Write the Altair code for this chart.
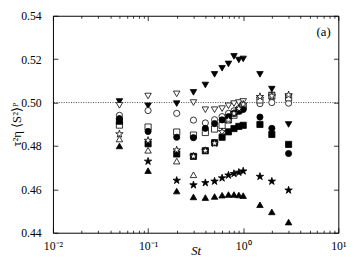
import altair as alt
import pandas as pd

# ---- data ----
st = [0.05, 0.1, 0.2, 0.3, 0.4, 0.5, 0.6, 0.7, 0.8, 0.9, 1.0, 1.5, 2.0, 3.0]

tri_down_filled = [0.5005, 0.4985, 0.4995, 0.5047, 0.5081, 0.5130, 0.5158, 0.5178, 0.5213, 0.5196, 0.5201, 0.5130, 0.5062, 0.4899]
tri_down_open   = [0.4987, 0.5030, 0.5040, 0.5000, 0.4967, 0.4967, 0.4972, 0.4985, 0.4995, 0.5000, 0.5005, 0.5012, 0.5035, 0.5025]
circle_open     = [0.4941, 0.4963, 0.4950, 0.4919, 0.4906, 0.4921, 0.4935, 0.4950, 0.4962, 0.4972, 0.4980, 0.4995, 0.5000, 0.4997]
square_open     = [0.4896, 0.4887, 0.4864, 0.4850, 0.4862, 0.4878, 0.4895, 0.4920, 0.4942, 0.4962, 0.4980, 0.5012, 0.5030, 0.5022]
circle_filled   = [0.4926, 0.4867, 0.4840, 0.4838, 0.4881, 0.4903, 0.4920, 0.4935, 0.4950, 0.4960, 0.4968, 0.4933, 0.4881, 0.4765]
square_filled   = [0.4914, 0.4810, 0.4763, 0.4752, 0.4778, 0.4815, 0.4840, 0.4865, 0.4880, 0.4890, 0.4895, 0.4899, 0.4853, 0.4807]
star_open       = [0.4855, 0.4825, 0.4781, 0.4752, 0.4778, 0.4812, 0.4865, 0.4920, 0.4950, 0.4972, 0.4992, 0.5027, 0.5030, 0.5035]
star_filled     = [None, 0.4729, 0.4641, 0.4620, 0.4630, 0.4637, 0.4652, 0.4665, 0.4672, 0.4678, 0.4684, 0.4659, 0.4637, 0.4596]
tri_up_open     = [0.4832, 0.4780, 0.4730, 0.4667, None, None, None, None, None, None, None, None, None, None]
tri_up_filled   = [0.4800, 0.4686, 0.4592, 0.4565, 0.4562, 0.4567, 0.4573, 0.4576, 0.4576, 0.4574, 0.4571, 0.4529, 0.4496, 0.4449]

x_ticks = [0.01, 0.02, 0.03, 0.04, 0.05, 0.06, 0.07, 0.08, 0.09,
           0.1, 0.2, 0.3, 0.4, 0.5, 0.6, 0.7, 0.8, 0.9,
           1, 2, 3, 4, 5, 6, 7, 8, 9, 10]
y_ticks = [0.44, 0.46, 0.48, 0.50, 0.52, 0.54]
ref_level = 0.50
panel_label = "(a)"

# ---- styles ----
STAR = ("M0,-1L0.225,-0.309L0.951,-0.309L0.363,0.118L0.588,0.809L0,0.382"
        "L-0.588,0.809L-0.363,0.118L-0.951,-0.309L-0.225,-0.309Z")
series = [
    (tri_down_filled, "triangle-down", "black", 44),
    (tri_down_open,   "triangle-down", "white", 44),
    (circle_open,     "circle",        "white", 40),
    (square_open,     "square",        "white", 40),
    (circle_filled,   "circle",        "black", 40),
    (square_filled,   "square",        "black", 40),
    (star_open,       STAR,            "white", 64),
    (star_filled,     STAR,            "black", 64),
    (tri_up_open,     "triangle-up",   "white", 44),
    (tri_up_filled,   "triangle-up",   "black", 44),
]

rows = []
k = 0
for vals, shp, fc, sz in series:
    for s, v in zip(st, vals):
        if v is None:
            continue
        rows.append({"St": s, "val": v, "shp": shp, "fc": fc, "sz": sz, "idx": k})
        k += 1
df = pd.DataFrame(rows)

FONT = "Liberation Serif"
xscale = alt.Scale(type="log", domain=[0.01, 10], nice=False)
yscale = alt.Scale(domain=[0.44, 0.54], nice=False, zero=False)
tick_expr = alt.ExprRef(expr="indexof([0.01,0.1,1,10], datum.value) >= 0 ? -5 : -2.5")
lab_expr = ("datum.value == 0.01 ? '10⁻²' : datum.value == 0.1 ? '10⁻¹' : "
            "datum.value == 1 ? '10⁰' : datum.value == 10 ? '10¹' : ''")

common = dict(domainColor="black", tickColor="black", labelColor="black",
              titleColor="black", grid=False, labelFont=FONT, titleFont=FONT,
              labelFontSize=12, titleFontSize=13, titleFontWeight="normal",
              domainWidth=1, tickWidth=0.8, labelFlush=False)

ax_bottom = alt.Axis(orient="bottom", values=x_ticks, tickSize=tick_expr,
                     labelExpr=lab_expr, labelPadding=13, labelOverlap=False,
                     titleFontStyle="italic", titleY=22, titleBaseline="alphabetic",
                     titleAnchor="middle", **common)
ax_top = alt.Axis(orient="top", values=x_ticks, tickSize=tick_expr,
                  labels=False, title=None, **common)
ax_left = alt.Axis(orient="left", values=y_ticks, tickSize=alt.ExprRef(expr="-5"),
                   format=".2f", labelPadding=17, titleX=-30, titleBaseline="bottom",
                   titleAnchor="middle", **common)
ax_right = alt.Axis(orient="right", values=y_ticks, tickSize=alt.ExprRef(expr="-5"),
                    labels=False, title=None, **common)

points = alt.Chart(df).mark_point(filled=True, stroke="black", strokeWidth=0.8, opacity=1).encode(
    x=alt.X("St:Q", scale=xscale, axis=ax_bottom, title="St"),
    y=alt.Y("val:Q", scale=yscale, axis=ax_left, title="τ²η ⟨S²⟩ᴾ"),
    shape=alt.Shape("shp:N", scale=None),
    fill=alt.Fill("fc:N", scale=None),
    size=alt.Size("sz:Q", scale=None),
    order=alt.Order("idx:Q"),
)

frame = alt.Chart(df).mark_point(opacity=0).encode(
    x=alt.X("St:Q", scale=xscale, axis=ax_top),
    y=alt.Y("val:Q", scale=yscale, axis=ax_right),
)

ref = alt.Chart(pd.DataFrame({"y": [ref_level]})).mark_rule(
    color="#333333", strokeDash=[1, 1.5], strokeWidth=0.9
).encode(y=alt.Y("y:Q", scale=yscale, axis=None))

label = alt.Chart(pd.DataFrame({"x": [7.0], "y": [0.5324], "t": [panel_label]})).mark_text(
    font=FONT, fontSize=13, color="black"
).encode(
    x=alt.X("x:Q", scale=xscale, axis=None),
    y=alt.Y("y:Q", scale=yscale, axis=None),
    text="t:N",
)

chart = alt.layer(ref, points, frame, label).resolve_axis(
    x="independent", y="independent"
).properties(
    width=292, height=222, autosize="none",
    padding={"left": 46, "top": 5, "right": 14, "bottom": 26},
).configure_view(stroke=None)

chart.save("out.html", embed_options={"renderer": "svg", "actions": False})
